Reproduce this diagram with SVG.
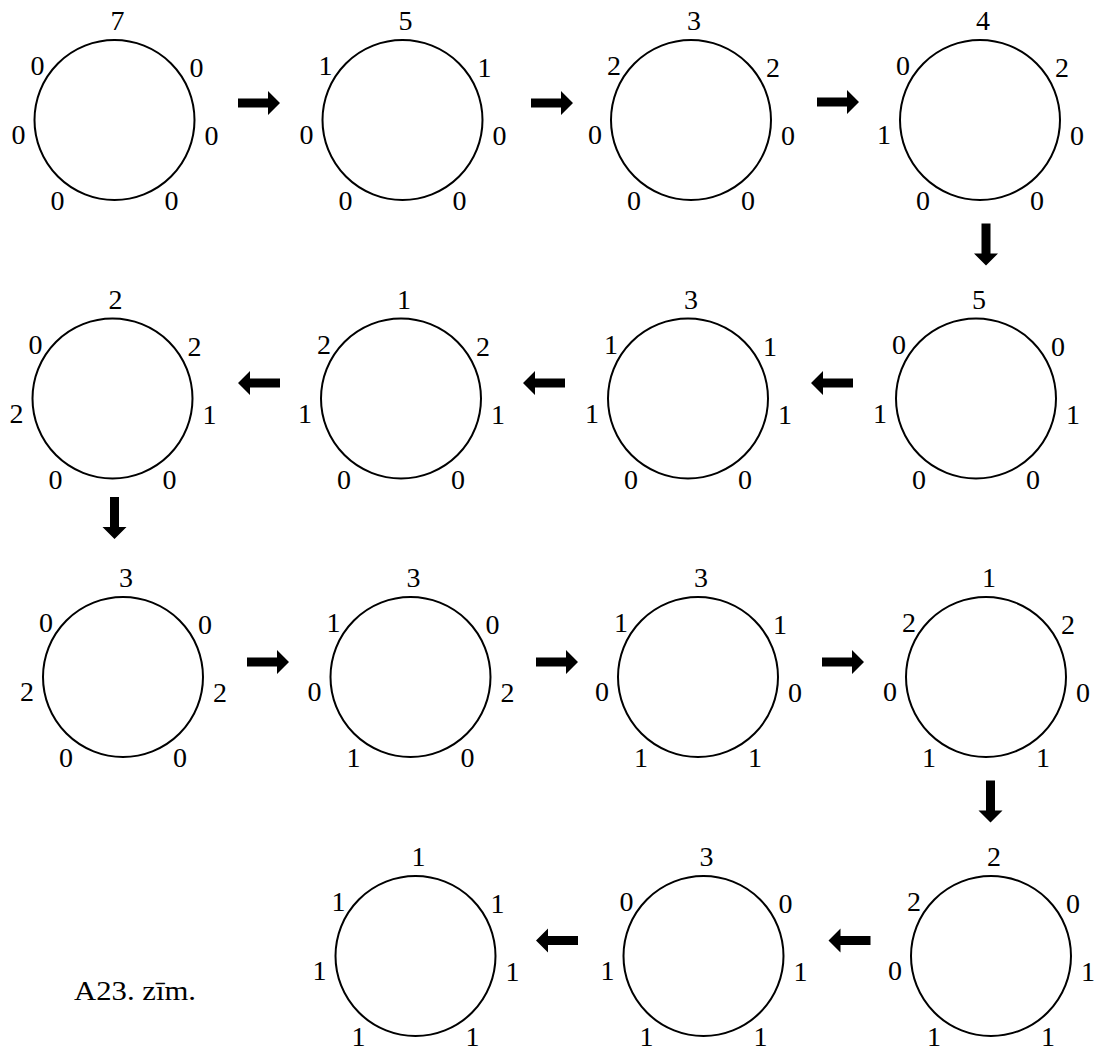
<svg xmlns="http://www.w3.org/2000/svg" xmlns:xlink="http://www.w3.org/1999/xlink" width="1098" height="1050" viewBox="0 0 1098 1050">
<style>
  .ring { fill: none; stroke: #000; stroke-width: 2; }
  .lb { font-family: "Liberation Serif", "Times New Roman", serif; font-size: 28px; fill: #000; text-anchor: middle; }
  .cap { font-family: "Liberation Serif", "Times New Roman", serif; font-size: 27px; fill: #000; }
  .arr { fill: #000; }
</style>
<defs>
  <path id="arrR" class="arr" d="M-21,-4.5 H9 V-12 L21,0 L9,12 V4.5 H-21 Z"/>
  <g id="ring"><circle class="ring" cx="0" cy="0" r="80"/></g>
</defs>
<rect width="1098" height="1050" fill="#fff"/>

<g id="connectors">
  <use xlink:href="#arrR" transform="translate(259,103)"/>
  <use xlink:href="#arrR" transform="translate(552,103)"/>
  <use xlink:href="#arrR" transform="translate(838,102)"/>
  <use xlink:href="#arrR" transform="translate(986,244.5) rotate(90)"/>
  <use xlink:href="#arrR" transform="translate(832,383) rotate(180)"/>
  <use xlink:href="#arrR" transform="translate(544,383) rotate(180)"/>
  <use xlink:href="#arrR" transform="translate(259,383) rotate(180)"/>
  <use xlink:href="#arrR" transform="translate(114.5,518) rotate(90)"/>
  <use xlink:href="#arrR" transform="translate(268,662)"/>
  <use xlink:href="#arrR" transform="translate(557,662)"/>
  <use xlink:href="#arrR" transform="translate(843,662)"/>
  <use xlink:href="#arrR" transform="translate(990.5,801.5) rotate(90)"/>
  <use xlink:href="#arrR" transform="translate(849.5,940.5) rotate(180)"/>
  <use xlink:href="#arrR" transform="translate(557,940.5) rotate(180)"/>
</g>

<g id="n1" transform="translate(114.5,120)">
  <use xlink:href="#ring"/>
  <text class="lb" x="3" y="-90">7</text>
  <text class="lb" x="-77" y="-45">0</text><text class="lb" x="82" y="-43">0</text>
  <text class="lb" x="-96" y="24">0</text><text class="lb" x="97" y="25">0</text>
  <text class="lb" x="-57" y="90">0</text><text class="lb" x="57" y="90">0</text>
</g>
<g id="n2" transform="translate(402.5,120)">
  <use xlink:href="#ring"/>
  <text class="lb" x="3" y="-90">5</text>
  <text class="lb" x="-77" y="-45">1</text><text class="lb" x="82" y="-43">1</text>
  <text class="lb" x="-96" y="24">0</text><text class="lb" x="97" y="25">0</text>
  <text class="lb" x="-57" y="90">0</text><text class="lb" x="57" y="90">0</text>
</g>
<g id="n3" transform="translate(691,120)">
  <use xlink:href="#ring"/>
  <text class="lb" x="3" y="-90">3</text>
  <text class="lb" x="-77" y="-45">2</text><text class="lb" x="82" y="-43">2</text>
  <text class="lb" x="-96" y="24">0</text><text class="lb" x="97" y="25">0</text>
  <text class="lb" x="-57" y="90">0</text><text class="lb" x="57" y="90">0</text>
</g>
<g id="n4" transform="translate(980,120)">
  <use xlink:href="#ring"/>
  <text class="lb" x="3" y="-90">4</text>
  <text class="lb" x="-77" y="-45">0</text><text class="lb" x="82" y="-43">2</text>
  <text class="lb" x="-96" y="24">1</text><text class="lb" x="97" y="25">0</text>
  <text class="lb" x="-57" y="90">0</text><text class="lb" x="57" y="90">0</text>
</g>

<g id="n5" transform="translate(976,398.5)">
  <use xlink:href="#ring"/>
  <text class="lb" x="3" y="-90">5</text>
  <text class="lb" x="-77" y="-45">0</text><text class="lb" x="82" y="-43">0</text>
  <text class="lb" x="-96" y="24">1</text><text class="lb" x="97" y="25">1</text>
  <text class="lb" x="-57" y="90">0</text><text class="lb" x="57" y="90">0</text>
</g>
<g id="n6" transform="translate(688,398.5)">
  <use xlink:href="#ring"/>
  <text class="lb" x="3" y="-90">3</text>
  <text class="lb" x="-77" y="-45">1</text><text class="lb" x="82" y="-43">1</text>
  <text class="lb" x="-96" y="24">1</text><text class="lb" x="97" y="25">1</text>
  <text class="lb" x="-57" y="90">0</text><text class="lb" x="57" y="90">0</text>
</g>
<g id="n7" transform="translate(401,398.5)">
  <use xlink:href="#ring"/>
  <text class="lb" x="3" y="-90">1</text>
  <text class="lb" x="-77" y="-45">2</text><text class="lb" x="82" y="-43">2</text>
  <text class="lb" x="-96" y="24">1</text><text class="lb" x="97" y="25">1</text>
  <text class="lb" x="-57" y="90">0</text><text class="lb" x="57" y="90">0</text>
</g>
<g id="n8" transform="translate(112.5,398.5)">
  <use xlink:href="#ring"/>
  <text class="lb" x="3" y="-90">2</text>
  <text class="lb" x="-77" y="-45">0</text><text class="lb" x="82" y="-43">2</text>
  <text class="lb" x="-96" y="24">2</text><text class="lb" x="97" y="25">1</text>
  <text class="lb" x="-57" y="90">0</text><text class="lb" x="57" y="90">0</text>
</g>

<g id="n9" transform="translate(123,677)">
  <use xlink:href="#ring"/>
  <text class="lb" x="3" y="-90">3</text>
  <text class="lb" x="-77" y="-45">0</text><text class="lb" x="82" y="-43">0</text>
  <text class="lb" x="-96" y="24">2</text><text class="lb" x="97" y="25">2</text>
  <text class="lb" x="-57" y="90">0</text><text class="lb" x="57" y="90">0</text>
</g>
<g id="n10" transform="translate(410.5,677)">
  <use xlink:href="#ring"/>
  <text class="lb" x="3" y="-90">3</text>
  <text class="lb" x="-77" y="-45">1</text><text class="lb" x="82" y="-43">0</text>
  <text class="lb" x="-96" y="24">0</text><text class="lb" x="97" y="25">2</text>
  <text class="lb" x="-57" y="90">1</text><text class="lb" x="57" y="90">0</text>
</g>
<g id="n11" transform="translate(698,677)">
  <use xlink:href="#ring"/>
  <text class="lb" x="3" y="-90">3</text>
  <text class="lb" x="-77" y="-45">1</text><text class="lb" x="82" y="-43">1</text>
  <text class="lb" x="-96" y="24">0</text><text class="lb" x="97" y="25">0</text>
  <text class="lb" x="-57" y="90">1</text><text class="lb" x="57" y="90">1</text>
</g>
<g id="n12" transform="translate(986,677)">
  <use xlink:href="#ring"/>
  <text class="lb" x="3" y="-90">1</text>
  <text class="lb" x="-77" y="-45">2</text><text class="lb" x="82" y="-43">2</text>
  <text class="lb" x="-96" y="24">0</text><text class="lb" x="97" y="25">0</text>
  <text class="lb" x="-57" y="90">1</text><text class="lb" x="57" y="90">1</text>
</g>

<g id="n13" transform="translate(991,956)">
  <use xlink:href="#ring"/>
  <text class="lb" x="3" y="-90">2</text>
  <text class="lb" x="-77" y="-45">2</text><text class="lb" x="82" y="-43">0</text>
  <text class="lb" x="-96" y="24">0</text><text class="lb" x="97" y="25">1</text>
  <text class="lb" x="-57" y="90">1</text><text class="lb" x="57" y="90">1</text>
</g>
<g id="n14" transform="translate(703.5,956)">
  <use xlink:href="#ring"/>
  <text class="lb" x="3" y="-90">3</text>
  <text class="lb" x="-77" y="-45">0</text><text class="lb" x="82" y="-43">0</text>
  <text class="lb" x="-96" y="24">1</text><text class="lb" x="97" y="25">1</text>
  <text class="lb" x="-57" y="90">1</text><text class="lb" x="57" y="90">1</text>
</g>
<g id="n15" transform="translate(415.5,956)">
  <use xlink:href="#ring"/>
  <text class="lb" x="3" y="-90">1</text>
  <text class="lb" x="-77" y="-45">1</text><text class="lb" x="82" y="-43">1</text>
  <text class="lb" x="-96" y="24">1</text><text class="lb" x="97" y="25">1</text>
  <text class="lb" x="-57" y="90">1</text><text class="lb" x="57" y="90">1</text>
</g>

<g id="caption">
  <text class="cap" x="74" y="1000" textLength="122" lengthAdjust="spacingAndGlyphs">A23. zīm.</text>
</g>
</svg>
